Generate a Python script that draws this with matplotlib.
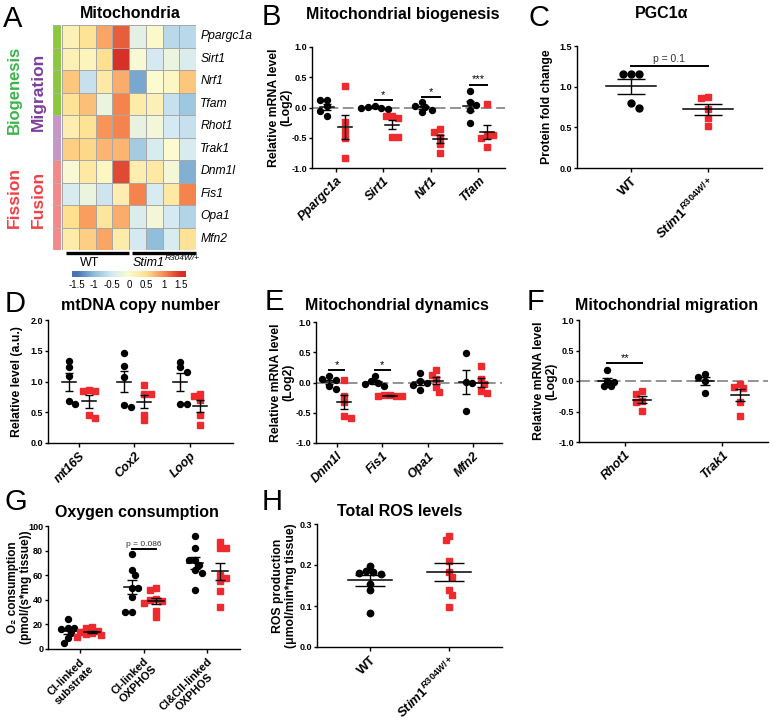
import numpy as np
import matplotlib
matplotlib.use('Agg')
import matplotlib.pyplot as plt
from matplotlib.colors import ListedColormap, LinearSegmentedColormap

plt.rcParams['font.family'] = ['Liberation Sans', 'DejaVu Sans']
plt.rcParams['font.weight'] = 'bold'
plt.rcParams['mathtext.fontset'] = 'custom'
plt.rcParams['mathtext.it'] = 'Liberation Sans:italic:bold'
plt.rcParams['mathtext.rm'] = 'Liberation Sans:bold'
plt.rcParams['mathtext.bf'] = 'Liberation Sans:bold'

W, H = 773, 722
RED = '#ee2a2f'
STIM = r'$\mathit{Stim1}^{\mathit{R304W/+}}$'
HEAT_CMAP = LinearSegmentedColormap.from_list(
    'heat', ['#4575b4', '#91bfdb', '#d4e9f2', '#fbfbd0', '#fee090', '#f88d52', '#d73027'])

# === Data ===
# A: heatmap (z-scores), rows = genes, cols = 4 WT + 4 Stim1 mice
genes = ['Ppargc1a', 'Sirt1', 'Nrf1', 'Tfam', 'Rhot1', 'Trak1',
         'Dnm1l', 'Fis1', 'Opa1', 'Mfn2']
heat = np.array([
    [0.20, 0.45, 0.85, 1.25, -0.30, 0.05, -0.70, -0.70],
    [0.20, 0.15, 0.50, 1.55, -0.05, -0.50, -0.20, -0.40],
    [0.65, -0.60, 0.35, 0.80, -1.15, 0.00, 0.10, 0.65],
    [0.45, 0.70, -0.20, 1.05, 0.30, 0.20, -0.60, -0.90],
    [0.25, 0.45, 0.95, 1.05, -0.25, -0.10, -0.50, -0.60],
    [0.60, 0.55, 0.75, 0.75, -0.85, -0.45, 0.00, -0.45],
    [-0.05, 0.35, 0.10, 1.35, 0.25, 0.35, -0.10, -1.10],
    [-0.45, -0.20, -0.55, 0.25, 1.05, -0.45, 0.35, 1.05],
    [0.50, 0.90, 0.40, 0.80, -0.40, -0.10, -0.50, -0.75],
    [0.30, 0.60, 0.85, 0.30, -0.50, -1.00, -0.45, 0.45],
])
row_group = [0, 0, 0, 0, 1, 1, 2, 2, 2, 2]
group_colors = ['#8dc63f', '#c497c8', '#f4898b']

# B: mitochondrial biogenesis (log2 mRNA)
bio_genes = ['Ppargc1a', 'Sirt1', 'Nrf1', 'Tfam']
bio_wt = [[0.12, 0.12, 0.02, -0.05, -0.14],
          [0.03, 0.01, 0.00, -0.01, -0.02],
          [0.09, 0.03, 0.01, -0.04, -0.08],
          [0.27, 0.09, 0.04, -0.04, -0.25]]
bio_mut = [[0.36, -0.24, -0.39, -0.50, -0.84],
           [-0.14, -0.14, -0.17, -0.48, -0.48],
           [-0.35, -0.41, -0.48, -0.60, -0.76],
           [0.05, -0.45, -0.46, -0.51, -0.65]]

# C: PGC1a protein
pgc_wt = [1.16, 1.16, 1.16, 0.80, 0.74]
pgc_mut = [0.87, 0.86, 0.73, 0.62, 0.52]

# D: mtDNA copy number
mt_labels = ['mt16S', 'Cox2', 'Loop']
mt_wt = [[1.33, 1.24, 1.09, 0.68, 0.64],
         [1.47, 1.25, 1.08, 0.62, 0.58],
         [1.32, 1.23, 1.16, 0.63, 0.63]]
mt_mut = [[0.86, 0.85, 0.84, 0.45, 0.40],
          [0.94, 0.80, 0.80, 0.46, 0.37],
          [0.79, 0.77, 0.70, 0.45, 0.30]]

# E: mitochondrial dynamics
dyn_genes = ['Dnm1l', 'Fis1', 'Opa1', 'Mfn2']
dyn_wt = [[0.11, 0.05, 0.04, -0.05, -0.11],
          [0.10, 0.02, 0.00, -0.03, -0.06],
          [0.15, 0.02, 0.00, -0.04, -0.12],
          [0.49, 0.01, 0.00, -0.47]]
dyn_mut = [[0.04, -0.22, -0.32, -0.55, -0.58],
           [-0.20, -0.21, -0.22, -0.22, -0.23],
           [0.20, 0.13, 0.06, -0.08, -0.15],
           [0.27, 0.05, -0.02, -0.14, -0.17]]

# F: mitochondrial migration
mig_genes = ['Rhot1', 'Trak1']
mig_wt = [[0.18, 0.00, -0.01, -0.08, -0.09],
          [0.12, 0.07, 0.00, -0.20]]
mig_mut = [[-0.16, -0.22, -0.33, -0.35, -0.49],
           [-0.05, -0.10, -0.12, -0.34, -0.57]]

# G: oxygen consumption
oxy_labels = ['CI-linked\nsubstrate', 'CI-linked\nOXPHOS', 'CI&CII-linked\nOXPHOS']
oxy_wt = [[24, 17, 17, 16, 14, 13, 9, 5],
          [77, 64, 60, 50, 50, 42, 30, 30],
          [92, 82, 72, 72, 68, 64, 62, 48]]
oxy_mut = [[18, 17, 15, 14, 13, 12, 11, 10],
           [50, 48, 41, 40, 39, 37, 31, 26],
           [87, 82, 82, 60, 58, 55, 47, 34]]

# H: total ROS
ros_wt = [0.198, 0.186, 0.184, 0.181, 0.178, 0.153, 0.138, 0.083]
ros_mut = [0.271, 0.260, 0.210, 0.182, 0.170, 0.139, 0.126, 0.098]

fig = plt.figure(figsize=(W / 100, H / 100), dpi=100)


def add_ax(l, t, r, b):
    return fig.add_axes([l / W, 1 - b / H, (r - l) / W, (b - t) / H])


def ftext(x, y, s, **kw):
    kw.setdefault('ha', 'center')
    kw.setdefault('va', 'center')
    return fig.text(x / W, 1 - y / H, s, **kw)


def px_w(ax, px):
    inv = ax.transData.inverted()
    return inv.transform((px, 0))[0] - inv.transform((0, 0))[0]


def swarm_offsets(ax, x, vals, diam):
    # simple beeswarm in pixel space
    ys = ax.transData.transform(np.column_stack([np.full(len(vals), x), vals]))[:, 1]
    step = diam * 0.55
    placed = []
    offs = np.zeros(len(vals))
    for n, i in enumerate(np.argsort(-np.asarray(vals))):
        cands = [0.0]
        for k in range(1, 12):
            s = 1 if n % 2 == 0 else -1
            cands += [s * k * step, -s * k * step]
        for c in cands:
            if all(np.hypot(c - px, ys[i] - py) >= diam * 0.92 for px, py in placed):
                break
        placed.append((c, ys[i]))
        offs[i] = c
    return offs


def dot_group(ax, x, vals, marker, color, mean_px, cap_px, ms=4.3):
    vals = np.asarray(vals, dtype=float)
    diam = ms / 0.72
    offs = swarm_offsets(ax, x, vals, diam)
    xs = x + offs * px_w(ax, 1)
    ax.plot(xs, vals, ls='none', marker=marker, ms=ms, color=color,
            mec=color, zorder=3, clip_on=False)
    m = vals.mean()
    sem = vals.std(ddof=1) / np.sqrt(len(vals))
    hw = px_w(ax, mean_px)
    ax.plot([x - hw, x + hw], [m, m], color='black', lw=1.1, zorder=4)
    ax.errorbar(x, m, yerr=sem, color='black', lw=1.0, capsize=cap_px * 0.72,
                capthick=1.0, zorder=4)


def style(ax, xlim, ylim, yticks, fmt, cats, xfs=9, italic=True):
    ax.set_xlim(*xlim)
    ax.set_ylim(*ylim)
    ax.spines['top'].set_visible(False)
    ax.spines['right'].set_visible(False)
    for s in ('left', 'bottom'):
        ax.spines[s].set_linewidth(1.0)
    ax.set_yticks(yticks)
    ax.set_yticklabels([fmt.format(v) for v in yticks], fontsize=6.5, fontweight='bold')
    ax.set_xticks(range(len(cats)))
    ax.set_xticklabels(cats, rotation=45, ha='right', rotation_mode='anchor',
                       fontsize=xfs, fontweight='bold',
                       style='italic' if italic else 'normal', multialignment='center')
    ax.tick_params(axis='y', length=2.5, width=1.0, pad=1)
    ax.tick_params(axis='x', length=3, width=1.0, pad=2)


def ylab(ax, text, x, fs=8.8):
    ax.set_ylabel(text, fontsize=fs, fontweight='bold', linespacing=1.05)
    ax.yaxis.set_label_coords(x, 0.5)


def zero_line(ax):
    ax.axhline(0, color='#8a8a8a', lw=1.3, ls=(0, (6, 2.5)), zorder=1)


def sig(ax, x1, x2, y, s, fs=8, dy=0.0, weight='normal', color='black'):
    ax.plot([x1, x2], [y, y], color='black', lw=1.4, zorder=4, clip_on=False)
    ax.text((x1 + x2) / 2, y + dy, s, ha='center', va='bottom', fontsize=fs,
            fontweight=weight, color=color)


# === A: heatmap ===
axh = add_ax(62, 25, 196, 250)
axh.pcolormesh(heat, cmap=HEAT_CMAP, vmin=-1.5, vmax=1.5,
               edgecolors='#a8a8a8', linewidth=0.7)
axh.set_xlim(0, 8)
axh.set_ylim(10, 0)
axh.axis('off')
for i, g in enumerate(genes):
    axh.text(8.25, i + 0.5, g, style='italic', fontweight='normal',
             fontsize=8.7, va='center', ha='left')
for x0, x1 in [(0.22, 4.0), (4.2, 7.98)]:
    axh.plot([x0, x1], [10.12, 10.12], color='black', lw=2.4, clip_on=False,
             solid_capstyle='butt')

axr = add_ax(53, 25, 61, 250)
axr.pcolormesh(np.array(row_group)[:, None], cmap=ListedColormap(group_colors),
               vmin=-0.5, vmax=2.5, edgecolors='#b0b0b0', linewidth=0.5)
axr.set_ylim(10, 0)
axr.axis('off')

ftext(130, 14, 'Mitochondria', fontsize=11.5, fontweight='bold')
ftext(90, 263, 'WT', fontsize=9, fontweight='normal')
t = ftext(133, 263, 'Stim1', fontsize=9, fontweight='normal', style='italic', ha='left')
plt.annotate('R304W/+', xy=(1.0, 0.55), xycoords=t, fontsize=6,
             style='italic', fontweight='normal', va='bottom', ha='left')
ftext(14, 90, 'Biogenesis', rotation=90, color='#3cb54a', fontsize=12, fontweight='bold')
ftext(38, 92, 'Migration', rotation=90, color='#7b3f99', fontsize=12.5, fontweight='bold')
ftext(14, 198, 'Fission', rotation=90, color='#ef4047', fontsize=12.5, fontweight='bold')
ftext(38, 199, 'Fusion', rotation=90, color='#ef4047', fontsize=12.5, fontweight='bold')

axc = add_ax(72, 271, 186, 277)
axc.imshow(np.linspace(-1.64, 1.64, 256)[None, :], cmap=HEAT_CMAP, vmin=-1.5,
           vmax=1.5, extent=(-1.64, 1.64, 0, 1), aspect='auto')
axc.set_xlim(-1.64, 1.64)
axc.set_yticks([])
cb_ticks = [-1.5, -1, -0.5, 0, 0.5, 1, 1.5]
axc.set_xticks(cb_ticks)
axc.set_xticklabels(['{:g}'.format(v) for v in cb_ticks], fontsize=7, fontweight='normal')
axc.tick_params(length=0, pad=2.5)
for s in axc.spines.values():
    s.set_visible(False)

# === B ===
axb = add_ax(312, 47, 505, 168)
style(axb, (-0.5, 3.56), (-1, 1), [-1, -0.5, 0, 0.5, 1], '{:.1f}', bio_genes)
zero_line(axb)
off = 0.185
for i in range(4):
    dot_group(axb, i - off, bio_wt[i], 'o', 'black', 7, 4)
    dot_group(axb, i + off, bio_mut[i], 's', RED, 7, 4, ms=4.0)
sig(axb, 1 - off, 1 + off, 0.13, '*')
sig(axb, 2 - off, 2 + off, 0.18, '*')
sig(axb, 3 - off, 3 + off, 0.38, '***')
ylab(axb, 'Relative mRNA level\n(Log2)', -0.1)

# === C ===
axC = add_ax(577, 46, 762, 168)
style(axC, (-0.7, 1.7), (0, 1.5), [0, 0.5, 1.0, 1.5], '{:.1f}', ['WT', STIM],
      xfs=9.5, italic=False)
dot_group(axC, 0, pgc_wt, 'o', 'black', 25, 14, ms=5.0)
dot_group(axC, 1, pgc_mut, 's', RED, 25, 14, ms=4.6)
sig(axC, 0, 1, 1.25, 'p = 0.1', fs=7.5, dy=0.03, color='#333333')
ylab(axC, 'Protein fold change', -0.13)

# === D ===
axd = add_ax(48, 320, 233, 443)
style(axd, (-0.55, 2.77), (0, 2), [0, 0.5, 1.0, 1.5, 2.0], '{:.1f}', mt_labels)
off = 0.18
for i in range(3):
    dot_group(axd, i - off, mt_wt[i], 'o', 'black', 7, 4)
    dot_group(axd, i + off, mt_mut[i], 's', RED, 7, 4, ms=4.0)
ylab(axd, 'Relative level (a.u.)', -0.135)

# === E ===
axe = add_ax(316, 322, 502, 443)
style(axe, (-0.455, 3.63), (-1, 1), [-1, -0.5, 0, 0.5, 1], '{:.1f}', dyn_genes)
zero_line(axe)
off = 0.17
for i in range(4):
    dot_group(axe, i - off, dyn_wt[i], 'o', 'black', 7, 4)
    dot_group(axe, i + off, dyn_mut[i], 's', RED, 7, 4, ms=4.0)
sig(axe, 0 - off, 0 + off, 0.21, '*')
sig(axe, 1 - off, 1 + off, 0.21, '*')
ylab(axe, 'Relative mRNA level\n(Log2)', -0.115)

# === F ===
axf = add_ax(579, 320, 768, 442)
style(axf, (-0.47, 1.47), (-1, 1), [-1, -0.5, 0, 0.5, 1], '{:.1f}', mig_genes)
zero_line(axf)
off = 0.18
for i in range(2):
    dot_group(axf, i - off, mig_wt[i], 'o', 'black', 9, 5)
    dot_group(axf, i + off, mig_mut[i], 's', RED, 9, 5, ms=4.0)
sig(axf, 0 - off, 0 + off, 0.29, '**')
ylab(axf, 'Relative mRNA level\n(Log2)', -0.115)

# === G ===
axg = add_ax(48, 526, 240, 649)
style(axg, (-0.5, 2.51), (0, 100), [0, 20, 40, 60, 80, 100], '{:.0f}', oxy_labels,
      xfs=8, italic=False)
off = 0.19
for i in range(3):
    dot_group(axg, i - off, oxy_wt[i], 'o', 'black', 8, 5)
    dot_group(axg, i + off, oxy_mut[i], 's', RED, 8, 5, ms=4.0)
sig(axg, 1 - off, 1 + off, 81.3, 'p = 0.086', fs=6, dy=1.0, color='#333333')
ylab(axg, 'O\u2082 consumption\n(pmol/(s*mg tissue))', -0.085, fs=8.5)

# === H ===
axH = add_ax(317, 524, 502, 647)
style(axH, (-0.67, 1.67), (0, 0.3), [0, 0.1, 0.2, 0.3], '{:.1f}', ['WT', STIM],
      xfs=9.5, italic=False)
dot_group(axH, 0, ros_wt, 'o', 'black', 22, 15, ms=4.6)
dot_group(axH, 1, ros_mut, 's', RED, 22, 15, ms=4.4)
ylab(axH, 'ROS production\n(\u03bcmol/min*mg tissue)', -0.11)

# === titles and panel letters ===
ftext(403, 14, 'Mitochondrial biogenesis', fontsize=11.5, fontweight='bold')
ftext(662, 14, 'PGC1\u03b1', fontsize=11.5, fontweight='bold')
ftext(140, 305, 'mtDNA copy number', fontsize=11.5, fontweight='bold')
ftext(397, 305, 'Mitochondrial dynamics', fontsize=11.5, fontweight='bold')
ftext(667, 305, 'Mitochondrial migration', fontsize=11.5, fontweight='bold')
ftext(137, 513, 'Oxygen consumption', fontsize=11.5, fontweight='bold')
ftext(400, 512, 'Total ROS levels', fontsize=11.5, fontweight='bold')

for letter, x, y in [('A', 3, 19), ('B', 262, 17), ('C', 528, 18), ('D', 5, 304),
                     ('E', 265, 302), ('F', 527, 302), ('G', 5, 502), ('H', 262, 502)]:
    ftext(x, y, letter, fontsize=21, fontweight='normal', ha='left')

fig.savefig('out.png', dpi=100)
